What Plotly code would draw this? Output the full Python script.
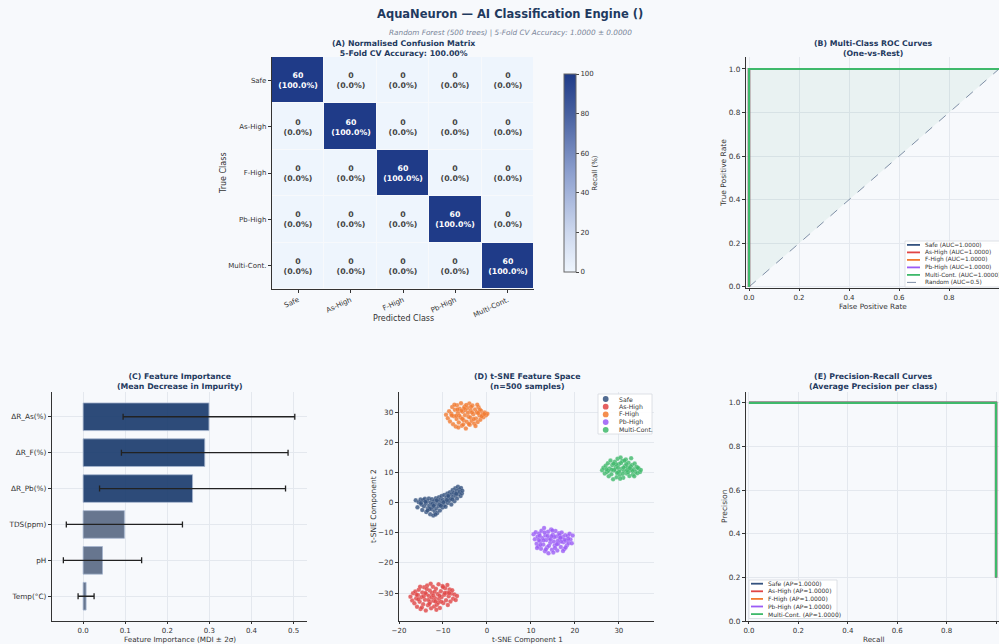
import plotly.graph_objects as go

# ---------------- DATA ----------------
classes = ["Safe", "As-High", "F-High", "Pb-High", "Multi-Cont."]
class_colors = ["#34527f", "#e04545", "#f27a30", "#9b5cf6", "#3fb96b"]

conf_counts = [
    [60, 0, 0, 0, 0],
    [0, 60, 0, 0, 0],
    [0, 0, 60, 0, 0],
    [0, 0, 0, 60, 0],
    [0, 0, 0, 0, 60],
]

roc_fpr = [0.0, 0.0, 1.0]
roc_tpr = [0.0, 1.0, 1.0]
roc_auc = [1.0, 1.0, 1.0, 1.0, 1.0]
random_auc = 0.5

pr_recall = [0.0, 1.0, 1.0]
pr_precision = [1.0, 1.0, 0.2]
pr_ap = [1.0, 1.0, 1.0, 1.0, 1.0]

features = ["ΔR_As(%)", "ΔR_F(%)", "ΔR_Pb(%)", "TDS(ppm)", "pH", "Temp(°C)"]
importance = [0.299, 0.289, 0.260, 0.098, 0.046, 0.007]
importance_2sd = [0.204, 0.198, 0.221, 0.138, 0.093, 0.019]

tsne_safe_x = [-16.2,-15.8,-15.5,-15.1,-14.9,-14.7,-14.5,-14.3,-14.1,-13.9,-13.8,-13.6,-13.4,-13.2,-13.1,-12.9,-12.8,-12.6,-12.5,-12.3,-12.2,-12.0,-11.9,-11.8,-11.6,-11.5,-11.3,-11.2,-11.0,-10.9,-10.7,-10.6,-10.4,-10.3,-10.1,-10.0,-9.8,-9.7,-9.5,-9.4,-9.2,-9.0,-8.9,-8.7,-8.6,-8.4,-8.3,-8.1,-8.0,-7.8,-7.7,-7.5,-7.4,-7.2,-7.1,-6.9,-6.8,-6.6,-6.5,-6.3,-6.2,-6.0,-5.9,-5.7,-5.6,-13.0,-12.4,-11.7,-10.8,-9.9,-9.1,-8.8,-7.9,-7.0,-14.0,-15.0,-13.5,-12.1,-11.4,-10.5]
tsne_safe_y = [0.8,-1.5,0.2,1.1,-0.6,-2.4,0.9,-1.2,1.3,-0.3,-3.1,0.5,-1.8,1.4,-0.9,-3.8,0.1,-2.2,1.2,-1.4,-4.2,0.6,-2.8,-0.5,1.5,-1.9,-3.4,0.3,-1.1,1.8,-2.6,0.9,-0.2,2.2,-1.6,1.0,-0.8,2.6,0.4,-1.3,1.7,3.1,-0.1,2.0,0.7,3.5,1.3,-0.6,2.8,4.2,1.9,3.3,0.5,4.8,2.5,3.9,1.4,5.3,2.9,4.4,3.6,2.2,4.9,3.1,4.0,-2.0,-0.4,-3.9,-0.7,0.2,0.9,2.3,1.1,3.0,0.3,-0.1,-2.6,-1.0,0.8,-1.0]

tsne_as_x = [-17.4,-17.0,-16.8,-16.5,-16.3,-16.1,-15.9,-15.7,-15.5,-15.3,-15.1,-14.9,-14.7,-14.5,-14.3,-14.1,-13.9,-13.8,-13.6,-13.4,-13.2,-13.0,-12.9,-12.7,-12.5,-12.3,-12.1,-12.0,-11.8,-11.6,-11.4,-11.2,-11.0,-10.9,-10.7,-10.5,-10.3,-10.1,-9.9,-9.7,-9.5,-9.3,-9.1,-8.9,-8.7,-8.5,-8.3,-8.1,-7.9,-7.7,-7.4,-7.1,-6.8,-14.4,-13.3,-12.6,-11.9,-11.1,-10.4,-9.6,-15.6,-16.0,-12.2,-10.8,-13.7,-14.8,-11.5,-9.0,-12.8,-10.0,-15.2,-13.1,-8.6,-11.7,-14.0]
tsne_as_y = [-31.2,-32.5,-30.1,-33.4,-29.5,-31.8,-34.6,-30.7,-28.9,-32.9,-35.3,-31.4,-29.8,-33.7,-28.1,-32.2,-35.8,-30.4,-27.5,-34.1,-31.0,-29.2,-33.0,-35.1,-30.0,-27.9,-32.6,-34.5,-31.7,-28.6,-33.9,-30.3,-27.1,-32.0,-35.0,-29.4,-31.3,-27.7,-33.3,-30.6,-28.4,-32.4,-29.9,-34.0,-31.1,-28.8,-32.8,-30.2,-29.1,-31.9,-30.5,-32.3,-31.0,-31.1,-32.3,-31.5,-29.6,-33.2,-32.9,-30.0,-32.1,-30.6,-30.8,-30.9,-28.7,-34.8,-35.6,-27.3,-26.9,-28.0,-27.9,-33.6,-30.0,-32.8,-30.0]

tsne_f_x = [-9.3,-8.9,-8.6,-8.4,-8.1,-7.9,-7.7,-7.5,-7.3,-7.1,-6.9,-6.8,-6.6,-6.4,-6.2,-6.0,-5.9,-5.7,-5.5,-5.3,-5.1,-5.0,-4.8,-4.6,-4.4,-4.2,-4.0,-3.9,-3.7,-3.5,-3.3,-3.1,-2.9,-2.7,-2.5,-2.3,-2.1,-1.9,-1.7,-1.5,-1.3,-1.0,-0.8,-0.5,-0.2,0.1,-6.3,-5.6,-4.9,-4.3,-3.8,-3.0,-2.2,-7.0,-6.5,-5.2,-4.1,-3.4,-2.6,-1.6,-8.0,-7.4,-5.8,-4.7,-3.6,-1.2,-0.6,-2.0,-6.7,-5.4]
tsne_f_y = [29.2,28.1,30.4,27.0,29.6,31.8,26.1,28.7,30.9,25.3,27.8,32.4,29.9,26.7,31.2,28.3,33.1,25.6,30.2,27.4,32.0,29.1,24.7,26.9,31.5,28.6,33.0,25.9,30.7,27.2,32.3,29.4,26.3,31.0,28.0,30.1,26.8,31.7,29.0,27.6,30.5,29.3,28.4,30.0,29.1,29.6,29.0,27.9,30.8,29.9,28.3,27.8,32.6,28.9,25.0,31.4,26.2,30.0,25.5,30.9,29.0,32.6,30.6,32.5,31.9,28.7,29.5,29.8,31.0,26.0]

tsne_pb_x = [10.6,10.9,11.1,11.3,11.5,11.7,11.9,12.1,12.3,12.4,12.6,12.8,13.0,13.2,13.3,13.5,13.7,13.9,14.0,14.2,14.4,14.6,14.8,15.0,15.2,15.4,15.6,15.8,16.0,16.2,16.4,16.6,16.8,17.0,17.2,17.4,17.6,17.8,18.0,18.2,18.4,18.6,18.8,19.0,19.3,12.0,12.9,13.8,14.5,15.3,16.1,16.9,17.7,14.1,15.5,13.4,16.5,14.9,12.2,18.5,11.8,15.9,17.3,13.1,14.7,16.7,19.5,11.4,15.1,17.9]
tsne_pb_y = [-10.5,-12.1,-9.8,-13.6,-11.3,-14.5,-10.2,-12.8,-15.3,-9.3,-11.7,-13.9,-8.4,-16.1,-10.9,-12.4,-14.8,-9.6,-16.8,-11.9,-13.3,-8.9,-15.6,-10.6,-12.9,-14.2,-9.4,-11.2,-15.9,-13.6,-10.1,-12.0,-14.7,-9.9,-11.5,-13.1,-15.4,-10.8,-12.6,-14.1,-11.0,-13.4,-10.3,-12.2,-13.5,-11.0,-12.5,-11.0,-12.2,-11.4,-12.7,-12.9,-12.3,-14.3,-15.0,-15.5,-10.7,-9.2,-14.0,-12.0,-12.4,-13.8,-16.0,-9.9,-11.1,-11.6,-10.9,-15.0,-16.5,-14.9]

tsne_mc_x = [26.2,26.5,26.8,27.0,27.3,27.5,27.7,27.9,28.1,28.3,28.5,28.7,28.9,29.1,29.3,29.5,29.7,29.9,30.0,30.2,30.4,30.6,30.8,31.0,31.2,31.4,31.6,31.8,32.0,32.2,32.4,32.6,32.8,33.0,33.2,33.4,33.6,33.8,34.0,34.2,34.5,34.8,35.0,29.0,30.1,31.1,32.1,30.5,28.4,31.7,33.1,29.6,30.9,32.7,27.6,29.4,31.3,33.5,28.8,30.3,31.9,34.3,27.2,32.5,29.8]
tsne_mc_y = [10.8,11.6,9.7,12.3,10.2,13.1,8.8,11.4,14.0,9.5,12.5,7.8,10.7,13.6,11.9,8.5,14.6,10.1,12.8,9.2,15.0,11.3,13.9,8.3,10.6,12.2,14.4,9.7,11.8,13.3,8.9,10.9,14.8,12.5,9.4,11.1,13.0,10.3,12.0,9.8,11.4,10.2,10.9,11.0,10.4,11.7,10.1,13.2,11.0,12.9,10.6,9.9,9.6,12.1,10.6,12.7,14.0,8.8,13.0,8.0,10.8,11.6,11.1,11.5,11.6]

tsne_x = [tsne_safe_x, tsne_as_x, tsne_f_x, tsne_pb_x, tsne_mc_x]
tsne_y = [tsne_safe_y, tsne_as_y, tsne_f_y, tsne_pb_y, tsne_mc_y]

# ---------------- LAYOUT HELPERS ----------------
W, H = 999, 644
def fx(p): return p / W
def fy(p): return 1 - p / H

BG = "#f7f9fc"
TITLE_C = "#1f3a5f"
TXT = "#333333"
GRID = "#e4e8ee"
FONT = "DejaVu Sans"
BOTTOM = 621  # bottom edge (px) of the lower row of panels

fig = go.Figure()

axis_common = dict(
    showline=True, linecolor="#333333", linewidth=1.4, mirror=False,
    ticks="outside", ticklen=3, tickcolor="#333333", tickwidth=1,
    tickfont=dict(size=7.3, color=TXT, family=FONT),
    gridcolor=GRID, gridwidth=0.7, zeroline=False, showgrid=True,
    automargin=False,
)

# ---------------- (A) CONFUSION MATRIX ----------------
row_sums = [sum(r) for r in conf_counts]
conf_pct = [[c / s * 100 for c in r] for r, s in zip(conf_counts, row_sums)]
conf_text = [[f"{c}<br>({p:.1f}%)" for c, p in zip(rc, rp)] for rc, rp in zip(conf_counts, conf_pct)]

fig.add_trace(go.Heatmap(
    z=conf_pct, x=classes, y=classes, text=conf_text,
    texttemplate="<b>%{text}</b>", textfont=dict(size=7.8, family=FONT),
    colorscale=[[0, "#eef5fd"], [0.2, "#cdd8ee"], [0.5, "#8da0cf"], [0.8, "#47609f"], [1, "#1f3b88"]],
    zmin=0, zmax=100, xgap=1, ygap=1,
    colorbar=dict(
        x=fx(564), xanchor="left", xpad=0, y=fy(173), yanchor="middle", ypad=0,
        len=198, lenmode="pixels", thickness=12,
        outlinecolor="#666", outlinewidth=1,
        ticks="outside", ticklen=3, tickvals=[0, 20, 40, 60, 80, 100],
        tickfont=dict(size=7, color=TXT, family=FONT),
        title=dict(text="Recall (%)", side="right", font=dict(size=7, color=TXT, family=FONT)),
    ),
    xaxis="x", yaxis="y", showlegend=False,
))

# ---------------- (B) ROC ----------------
fig.add_trace(go.Scatter(x=[0, 1], y=[0, 1], mode="lines",
                         line=dict(color="#7f8fa6", width=1, dash="dash"),
                         xaxis="x2", yaxis="y2", showlegend=False))
fig.add_trace(go.Scatter(x=roc_fpr, y=roc_tpr, mode="lines", fill="tonexty",
                         fillcolor="rgba(60,150,110,0.07)", line=dict(width=0),
                         xaxis="x2", yaxis="y2", showlegend=False))
for name, col in zip(classes, class_colors):
    fig.add_trace(go.Scatter(x=roc_fpr, y=roc_tpr, mode="lines", name=name,
                             line=dict(color=col, width=2.2),
                             xaxis="x2", yaxis="y2", showlegend=False))

# ---------------- (C) FEATURE IMPORTANCE ----------------
bar_colors = ["#1c3d6e" if f.startswith("ΔR") else "#5b6b86" for f in features]
fig.add_trace(go.Bar(
    x=importance, y=features, orientation="h", width=0.77,
    marker=dict(color=bar_colors, opacity=0.92, line=dict(color="#9fb0cc", width=0.8)),
    error_x=dict(type="data", array=importance_2sd, color="#222222", thickness=1.3, width=3),
    xaxis="x3", yaxis="y3", showlegend=False,
))

# ---------------- (D) t-SNE ----------------
for name, col, xs, ys in zip(classes, class_colors, tsne_x, tsne_y):
    fig.add_trace(go.Scatter(x=xs, y=ys, mode="markers", name=name,
                             marker=dict(color=col, size=4.5, opacity=0.8,
                                         line=dict(color="rgba(255,255,255,0.6)", width=0.3)),
                             xaxis="x4", yaxis="y4", showlegend=False))

# ---------------- (E) PR ----------------
for name, col in zip(classes, class_colors):
    fig.add_trace(go.Scatter(x=pr_recall, y=pr_precision, mode="lines", name=name,
                             line=dict(color=col, width=2.2),
                             xaxis="x5", yaxis="y5", showlegend=False))

# ---------------- AXES ----------------
bottom_row = dict(ticklen=2, tickfont=dict(size=7, color=TXT, family=FONT))
layout_axes = dict(
    xaxis=dict(axis_common, domain=[fx(272), fx(534)], anchor="y", tickangle=-25,
               showgrid=False, tickfont=dict(size=7, color=TXT, family=FONT)),
    yaxis=dict(axis_common, domain=[fy(289), fy(57)], anchor="x", autorange="reversed",
               showgrid=False, tickfont=dict(size=7, color=TXT, family=FONT)),
    xaxis2=dict(axis_common, domain=[fx(746), 1.0], anchor="y2", range=[-0.012, 1.0],
                dtick=0.2, tickformat=".1f", **bottom_row),
    yaxis2=dict(axis_common, domain=[fy(288), fy(57)], anchor="x2", range=[-0.005, 1.055],
                dtick=0.2, tickformat=".1f"),
    xaxis3=dict(axis_common, domain=[fx(52), fx(307)], anchor="y3", range=[-0.074, 0.532],
                dtick=0.1, tickformat=".1f", **bottom_row),
    yaxis3=dict(axis_common, domain=[fy(BOTTOM), fy(392)], anchor="x3", type="category",
                categoryorder="array", categoryarray=features,
                range=[len(features) - 1 + 0.69, -0.69]),
    xaxis4=dict(axis_common, domain=[fx(399), fx(654)], anchor="y4", range=[-20, 38],
                dtick=10, **bottom_row),
    yaxis4=dict(axis_common, domain=[fy(BOTTOM), fy(392)], anchor="x4", range=[-39.3, 36.8],
                dtick=10),
    xaxis5=dict(axis_common, domain=[fx(746), 1.0], anchor="y5", range=[-0.012, 1.012],
                dtick=0.2, tickformat=".1f", **bottom_row),
    yaxis5=dict(axis_common, domain=[fy(BOTTOM), fy(392)], anchor="x5", range=[0, 1.05],
                dtick=0.2, tickformat=".1f"),
)

annotations = []
shapes = []

def text(x, y, s, size=8, color=TXT, bold=False, italic=False, angle=0, xanchor="center"):
    if bold:
        s = f"<b>{s}</b>"
    if italic:
        s = f"<i>{s}</i>"
    annotations.append(dict(x=fx(x), y=fy(y), xref="paper", yref="paper", text=s,
                            showarrow=False, xanchor=xanchor, yanchor="middle", textangle=angle,
                            font=dict(size=size, color=color, family=FONT)))

# titles
text(510, 14, "AquaNeuron — AI Classification Engine ()", size=11.5, color=TITLE_C, bold=True)
text(510, 33, "Random Forest (500 trees) | 5-Fold CV Accuracy: 1.0000 ± 0.0000", size=7.3,
     color="#7a8599", italic=True)

panel_titles = [
    (403, 48.5, "(A) Normalised Confusion Matrix", "5-Fold CV Accuracy: 100.00%"),
    (873, 48, "(B) Multi-Class ROC Curves", "(One-vs-Rest)"),
    (180, 381, "(C) Feature Importance", "(Mean Decrease in Impurity)"),
    (527, 381, "(D) t-SNE Feature Space", "(n=500 samples)"),
    (873, 381, "(E) Precision-Recall Curves", "(Average Precision per class)"),
]
for x, y, l1, l2 in panel_titles:
    text(x, y, f"<b>{l1}</b><br><b>{l2}</b>", size=7.8, color=TITLE_C)

# axis titles
text(403, 318, "Predicted Class", size=8)
text(224, 173, "True Class", size=8, angle=-90)
text(873, 306.5, "False Positive Rate", size=7.3)
text(724, 173, "True Positive Rate", size=7.5, angle=-90)
text(180, 639.5, "Feature Importance (MDI ± 2σ)", size=7.2)
text(527, 639.5, "t-SNE Component 1", size=7.2)
text(373, 506, "t-SNE Component 2", size=7.5, angle=-90)
text(873, 639.5, "Recall", size=7.2)
text(724, 506, "Precision", size=7.5, angle=-90)

def legend_box(x0, y0, x1, y1):
    shapes.append(dict(type="rect", xref="paper", yref="paper",
                       x0=fx(x0), x1=fx(x1), y0=fy(y1), y1=fy(y0),
                       fillcolor="rgba(255,255,255,0.9)", line=dict(color="#d5d9e0", width=0.8)))

def legend_line(x0, x1, y, color, dash="solid"):
    shapes.append(dict(type="line", xref="paper", yref="paper",
                       x0=fx(x0), x1=fx(x1), y0=fy(y), y1=fy(y),
                       line=dict(color=color, width=1.8 if dash == "solid" else 1, dash=dash)))

# ROC legend
legend_box(905, 241, 1004, 287)
roc_labels = [f"{n} (AUC={a:.4f})" for n, a in zip(classes, roc_auc)]
for i, (lab, col) in enumerate(zip(roc_labels, class_colors)):
    yy = 244.9 + i * 7.5
    legend_line(907, 920, yy, col)
    text(922.5, yy, lab, size=5.8, xanchor="left")
yy = 244.9 + 5 * 7.5
legend_line(907, 920, yy, "#7f8fa6", dash="dash")
text(922.5, yy, f"Random (AUC={random_auc})", size=5.8, xanchor="left")

# PR legend
legend_box(749, 580, 837, 618.5)
pr_labels = [f"{n} (AP={a:.4f})" for n, a in zip(classes, pr_ap)]
for i, (lab, col) in enumerate(zip(pr_labels, class_colors)):
    yy = 583.7 + i * 7.6
    legend_line(751, 763, yy, col)
    text(766, yy, lab, size=6.0, xanchor="left")

# t-SNE legend
legend_box(598, 394, 652, 434)
for i, (n, col) in enumerate(zip(classes, class_colors)):
    yy = 399 + i * 7.7
    shapes.append(dict(type="circle", xref="paper", yref="paper",
                       x0=fx(602.8), x1=fx(608.6), y0=fy(yy + 2.9), y1=fy(yy - 2.9),
                       fillcolor=col, opacity=0.85, line=dict(width=0)))
    text(616.5, yy, n, size=6.2, xanchor="left")

fig.update_layout(
    width=W, height=H, margin=dict(l=0, r=0, t=0, b=0),
    paper_bgcolor=BG, plot_bgcolor=BG,
    font=dict(family=FONT, color=TXT),
    showlegend=False, bargap=0.2,
    annotations=annotations, shapes=shapes,
    **layout_axes,
)

fig.write_html("out.html")
